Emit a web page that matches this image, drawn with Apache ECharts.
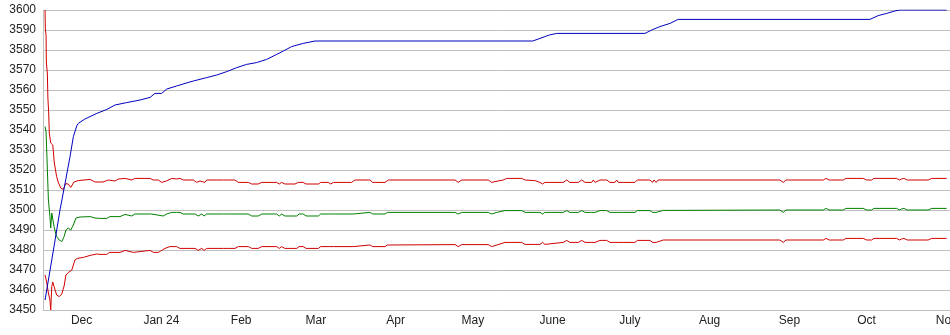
<!DOCTYPE html>
<html>
<head>
<meta charset="utf-8">
<script src="https://cdn.jsdelivr.net/npm/echarts@6/dist/echarts.min.js"></script>
<style>
html,body{margin:0;padding:0;background:#fff;}
#chart{width:950px;height:335px;}
</style>
</head>
<body>
<div id="chart"></div>
<script>
// Day offsets are days after 2023-11-16 (UTC).
var startDate = '2023-11-16';
var endDay = 352.4;

// X tick labels (at each month start)
var monthStarts = ['2023-12-01','2024-01-01','2024-02-01','2024-03-01','2024-04-01','2024-05-01','2024-06-01','2024-07-01','2024-08-01','2024-09-01','2024-10-01','2024-11-01'];
var monthLabels = ['Dec','Jan 24','Feb','Mar','Apr','May','June','July','Aug','Sep','Oct','Nov'];

// Y axis
var yMin = 3450, yMax = 3600, yStep = 10;

// Blue series (rising)
var blueLine = [
[0.8,3455],[2.1,3465],[3.4,3475],[4.7,3485],[6.6,3500],[8.6,3513.5],[10.5,3526.7],[11.8,3536.7],[13.1,3542],[13.7,3543.3],
[16.3,3545.5],[20.9,3548.3],[24.8,3550.3],[28.0,3552.5],[32.5,3553.7],[37.7,3555],[41.6,3556.3],[43.5,3558.3],[46.1,3558.3],
[48.1,3560.5],[51.9,3562],[55.2,3563.3],[58.4,3564.5],[63.6,3566.2],[67.5,3567.5],[71.4,3569.2],[75.3,3571.2],[79.1,3572.8],
[83.0,3573.7],[86.9,3575.3],[90.8,3577.8],[93.4,3579.5],[96.6,3581.7],[101.1,3583.3],[105.7,3584.5],[190.3,3584.5],[190.5,3585.3],
[193.1,3585.8],[196.7,3587.5],[199.6,3588.3],[233.9,3588.3],[236.5,3590],[239.7,3591.7],[243.6,3593.3],[246.8,3595.3],
[321.3,3595.3],[322.0,3596.3],[324.5,3597.2],[327.8,3598.3],[331.0,3599.5],[332.9,3600],[351.1,3600]
];

// Upper red band
var upperRed = [
[0.8,3600],[0.9,3591],[1.2,3587],[1.3,3574],[1.7,3568],[1.9,3556],[2.2,3549],[2.45,3538.5],[3.0,3533.5],[3.4,3534],[3.8,3532.5],
[4.4,3523.5],[5.3,3516.7],[5.9,3514],[6.9,3511],[7.9,3510.3],[8.8,3513.2],[9.8,3513],[10.8,3511.3],[12.0,3514],[13.7,3514.7],
[18.3,3515.3],[20.2,3514],[23.3,3514],[25.4,3515],[28.0,3514.5],[29.3,3515.5],[31.9,3515.8],[32.5,3515],[34.5,3515],[35.7,3515.8],
[41.6,3515.8],[42.9,3515],[44.8,3515],[46.1,3513.8],[48.1,3514.6],[50.0,3515.8],[51.9,3515.5],[53.2,3515.8],[54.5,3515],
[58.4,3515],[59.7,3513.8],[61.0,3514.5],[62.9,3513.8],[63.6,3515],[70.1,3515],[70.7,3515.8],[72.0,3515],[74.6,3515],[75.9,3513.8],
[79.8,3513.8],[81.1,3513],[83.6,3513],[85.0,3513.8],[90.8,3513.8],[91.8,3513],[92.7,3513.8],[94.0,3513],[97.9,3513],[99.2,3513.8],
[101.1,3513.8],[102.2,3513],[107.0,3513],[107.9,3513.8],[110.8,3513.8],[111.8,3513],[112.8,3513.8],[119.9,3513.8],[121.2,3515],
[127.0,3515],[128.1,3513.8],[132.9,3513.8],[134.2,3515],[160.1,3515],[161.3,3513.8],[162.7,3515],[173.0,3515],[174.3,3513.8],
[175.6,3514.2],[178.8,3515],[180.2,3515.8],[186.0,3515.8],[187.3,3515],[191.1,3514.7],[193.1,3513.8],[194.1,3513],[195.0,3513.8],
[202.1,3513.8],[203.5,3515],[204.7,3513.8],[208.0,3513.8],[209.3,3515],[210.6,3513.8],[213.2,3513.8],[213.8,3515],[214.5,3513.8],
[216.4,3515],[219.0,3515],[220.3,3513.8],[222.2,3513.8],[222.9,3515],[223.5,3513.8],[230.0,3513.8],[230.9,3515],[235.8,3515],
[236.9,3513.8],[237.4,3515],[238.2,3513.8],[239.0,3515],[286.3,3515],[287.6,3513.8],[288.7,3515],[289.3,3515.8],[290.2,3515],
[303.2,3515],[304.2,3515.8],[305.5,3515],[310.9,3515],[312.0,3515.8],[318.7,3515.8],[320.0,3515],[322.0,3515],[322.8,3515.8],
[331.7,3515.8],[332.7,3515],[333.6,3515.5],[334.5,3515.8],[335.8,3515],[343.9,3515],[345.3,3515.8],[351.1,3515.8]
];

// Middle green
var middleGreen = [
[0.8,3541.7],[1.2,3539],[1.4,3539],[1.7,3520],[2.1,3505],[2.7,3496.7],[3.0,3491],[3.4,3498.5],[4.0,3497.5],[4.3,3491.7],
[4.9,3488.5],[5.3,3486.7],[6.3,3485],[7.3,3484.2],[8.2,3486.7],[8.9,3490],[9.8,3491],[10.8,3490],[11.8,3492.5],[12.8,3496],
[14.4,3496.5],[18.3,3496.7],[20.2,3496],[22.1,3495.8],[24.8,3495.8],[26.0,3496.7],[28.0,3496.7],[28.6,3495.8],[29.9,3496.7],
[31.9,3497.8],[32.5,3497],[34.5,3497],[35.7,3498],[42.2,3498],[42.9,3497],[46.7,3497],[48.1,3498],[50.0,3498.8],[51.9,3498.8],
[52.6,3498],[53.2,3498.8],[54.5,3498],[59.1,3498],[60.3,3497],[61.7,3498],[62.6,3497],[63.6,3498],[70.1,3498],[70.7,3498.8],
[72.0,3498],[79.8,3498],[81.1,3497],[83.6,3497],[85.0,3498],[90.8,3498],[91.8,3497],[92.7,3498],[94.0,3497],[98.6,3497],
[99.5,3498],[101.1,3498],[102.2,3497],[107.0,3497],[107.9,3498],[111.2,3498],[111.9,3497],[112.8,3498],[120.6,3498],[121.2,3498.8],
[127.0,3498.8],[128.1,3498],[132.9,3498],[133.8,3498.8],[160.1,3498.8],[161.3,3498],[162.7,3498.8],[173.0,3498.8],[174.3,3498],
[176.3,3498.8],[179.5,3499.7],[186.0,3499.7],[187.3,3498.8],[193.1,3498.8],[194.1,3498],[195.0,3498.8],[202.1,3498.8],[203.5,3499.7],
[204.7,3498.8],[208.0,3498.8],[209.3,3499.7],[210.6,3498.8],[213.2,3498.8],[213.8,3499.7],[214.5,3498.8],[216.4,3499.7],[219.0,3499.7],
[220.3,3498.8],[222.2,3498.8],[222.9,3499.7],[223.5,3498.8],[230.0,3498.8],[230.9,3499.7],[235.8,3499.7],[236.9,3498.8],[237.4,3499.7],
[238.2,3498.8],[241.0,3499.8],[286.3,3500],[287.6,3498.8],[288.7,3500],[289.3,3500.8],[290.2,3500],[303.2,3500],[304.2,3500.8],
[305.5,3500],[310.9,3500],[312.0,3500.8],[318.7,3500.8],[320.0,3500],[322.0,3500],[322.8,3500.8],[331.7,3500.8],[332.7,3500],
[333.6,3500.5],[334.5,3500.8],[335.8,3500],[343.9,3500],[345.3,3500.8],[351.1,3500.8]
];

// Lower red band
var lowerRed = [
[0.8,3467.5],[1.4,3464],[2.1,3458.5],[2.7,3455],[3.0,3450],[3.4,3461.7],[3.8,3464],[4.3,3461.7],[5.3,3457.5],[6.3,3456.7],
[7.3,3458],[8.2,3462],[8.9,3467.5],[9.8,3468.7],[11.2,3470],[12.4,3475],[13.3,3475.8],[15.7,3476.3],[18.3,3477.3],[20.9,3478],
[22.1,3477.8],[24.8,3477.8],[25.8,3478.8],[28.0,3478.8],[28.6,3477.8],[29.9,3478.8],[31.9,3479.8],[32.5,3478.8],[35.1,3478.8],
[35.7,3479.8],[41.6,3479.8],[42.9,3478.8],[44.8,3478.8],[46.1,3479.8],[47.4,3480.8],[49.3,3481.7],[51.9,3481.7],[53.2,3480.8],
[59.1,3480.8],[60.3,3479.8],[61.7,3480.8],[62.6,3479.8],[63.6,3480.8],[70.1,3480.8],[70.7,3481.7],[72.0,3480.8],[74.6,3480.8],
[75.9,3481.7],[79.8,3481.7],[81.1,3480.8],[83.6,3480.8],[85.0,3481.7],[90.8,3481.7],[91.8,3480.8],[92.7,3481.7],[94.0,3480.8],
[98.6,3480.8],[99.5,3481.7],[101.1,3481.7],[102.2,3480.8],[107.0,3480.8],[107.9,3481.7],[111.2,3481.7],[111.9,3480.8],[112.8,3481.7],
[120.6,3481.7],[121.2,3482.5],[127.0,3482.5],[128.1,3481.7],[132.9,3481.7],[133.8,3482.5],[160.1,3482.7],[161.3,3481.7],[162.7,3482.7],
[173.0,3482.7],[174.3,3481.7],[175.6,3482.2],[179.5,3483.8],[186.0,3483.8],[187.3,3482.8],[191.1,3482.8],[191.8,3483.8],[193.1,3482.8],
[194.1,3483.8],[195.0,3482.8],[202.1,3483.8],[203.5,3484.8],[204.7,3483.8],[208.0,3483.8],[209.3,3484.8],[210.6,3483.8],[213.2,3483.8],
[213.8,3484.8],[214.5,3483.8],[216.4,3484.8],[219.0,3484.8],[220.3,3483.8],[222.2,3483.8],[222.9,3484.8],[223.5,3483.8],[230.0,3483.8],
[230.9,3484.8],[235.8,3484.8],[236.9,3483.8],[237.4,3484.8],[238.2,3483.8],[241.0,3485],[286.3,3485],[287.6,3483.8],[288.7,3485],
[289.3,3485.8],[290.2,3485],[303.2,3485],[304.2,3485.8],[305.5,3485],[310.9,3485],[312.0,3485.8],[318.7,3485.8],[320.0,3485],
[322.0,3485],[322.8,3485.8],[331.7,3485.8],[332.7,3485],[333.6,3485.5],[334.5,3485.8],[335.8,3485],[343.9,3485],[345.3,3485.8],
[351.1,3485.8]
];

var DAY = 86400000;
var t0 = Date.parse(startDate + 'T00:00:00Z');
// x values expressed as days after startDate
var tickDays = monthStarts.map(function(s){ return (Date.parse(s + 'T00:00:00Z') - t0) / DAY; });

var chart = echarts.init(document.getElementById('chart'), null, {renderer:'canvas'});
var lineBase = {type:'line', showSymbol:false, symbol:'none', silent:true, animation:false};
chart.setOption({
  animation: false,
  backgroundColor: '#ffffff',
  grid: {left: 43, right: 0, top: 10, bottom: 25, containLabel: false, outerBoundsMode: 'none'},
  xAxis: {
    type: 'value',
    min: 0,
    max: endDay,
    axisLine: {show: true, lineStyle: {color: '#c0c0c0', width: 1}},
    axisTick: {show: false},
    splitLine: {show: false},
    axisLabel: {
      customValues: tickDays,
      showMinLabel: true,
      showMaxLabel: true,
      hideOverlap: false,
      alignMinLabel: 'center',
      alignMaxLabel: 'center',
      margin: 5,
      color: '#222',
      fontFamily: 'Liberation Sans, Arial, sans-serif',
      fontSize: 12,
      formatter: function(v){
        var best = 0, bd = Infinity;
        for (var i = 0; i < tickDays.length; i++){ var d = Math.abs(tickDays[i]-v); if (d < bd){ bd = d; best = i; } }
        return monthLabels[best];
      }
    }
  },
  yAxis: {
    type: 'value',
    min: yMin, max: yMax, interval: yStep,
    axisLine: {show: true, lineStyle: {color: '#c0c0c0', width: 1}},
    axisTick: {show: false},
    splitLine: {show: true, lineStyle: {color: '#c0c0c0', width: 1}},
    axisLabel: {margin: 7, color: '#222', fontFamily: 'Liberation Sans, Arial, sans-serif', fontSize: 12,
      formatter: function(v){ return String(v); }}
  },
  series: [
    Object.assign({}, lineBase, {name:'upper', data: upperRed, lineStyle:{color:'#d00000', width:1}, itemStyle:{color:'#d00000'}}),
    Object.assign({}, lineBase, {name:'lower', data: lowerRed, lineStyle:{color:'#d00000', width:1}, itemStyle:{color:'#d00000'}}),
    Object.assign({}, lineBase, {name:'middle', data: middleGreen, lineStyle:{color:'#008000', width:1}, itemStyle:{color:'#008000'}}),
    Object.assign({}, lineBase, {name:'blue', data: blueLine, lineStyle:{color:'#0000c0', width:1}, itemStyle:{color:'#0000c0'}})
  ]
});
</script>
</body>
</html>
